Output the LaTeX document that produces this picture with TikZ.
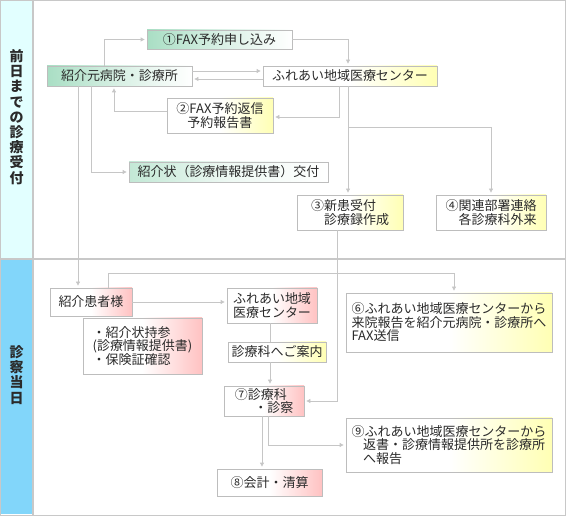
\documentclass[tikz,border=0pt]{standalone}
\usepackage{fontspec}
\newfontfamily\jpfont{Noto Sans CJK JP}
\usetikzlibrary{arrows.meta}
\definecolor{frameg}{HTML}{C8C8C8}
\definecolor{boxg}{HTML}{BDBDBD}
\definecolor{lineg}{HTML}{C6C6C6}
\definecolor{txt}{HTML}{2A2A2A}
\definecolor{mint}{HTML}{A9DEC4}
\definecolor{lemon}{HTML}{FFFFB4}
\definecolor{rose}{HTML}{FFC2C2}
\definecolor{pale}{HTML}{E2FFFF}
\definecolor{sky}{HTML}{82D6FA}

\begin{document}
\begin{tikzpicture}[x=1pt, y=-1pt,
    box/.style={draw=boxg, line width=0.8pt, text=txt, font=\jpfont\fontsize{13}{13.5}\selectfont, inner sep=2pt, align=center},
    gbox/.style={box, left color=mint, right color=white, middle color=mint!45},
    lgbox/.style={box, left color=mint!70, right color=white, middle color=mint!20},
    ybox/.style={box, left color=white, right color=lemon, middle color=white},
    pbox/.style={box, left color=white, right color=rose, middle color=white},
    link/.style={draw=lineg, line width=0.8pt},
    arr/.style={link, -{Triangle[length=4pt,width=4pt]}, shorten >=2pt},
    side/.style={font=\jpfont\bfseries\fontsize{14}{15.2}\selectfont, text=txt, align=center, text width=14pt},
  ]
    \useasboundingbox (0,0) rectangle (566,516);

    % frame and side bands
    \fill[pale] (1,1) rectangle (33,258);
    \fill[sky]  (1,260) rectangle (32,514);
    \draw[frameg, line width=1.2pt] (0.6,0.6) rectangle (565.4,515.4);
    \draw[frameg, line width=1.2pt] (33,0) -- (33,516);
    \draw[frameg, line width=1.2pt] (0,259) -- (566,259);

    \node[side] (day0) at (16.5,117) {前\\日\\ま\\で\\の\\診\\療\\受\\付};
    \node[side] (day1) at (16.5,375) {診\\察\\当\\日};

    % before the day
    \node[gbox, minimum width=145pt, minimum height=19pt] (fax)  at (219.5,39.5) {①FAX予約申し込み};
    \node[gbox, minimum width=145pt, minimum height=20pt] (src)  at (119.5,76)   {紹介元病院・診療所};
    \node[ybox, minimum width=174pt, minimum height=20pt] (ctr)  at (350,76)     {ふれあい地域医療センター};
    \node[ybox, minimum width=106pt, minimum height=35pt] (rep)  at (220,115.5)  {②FAX予約返信\\予約報告書};
    \node[lgbox, minimum width=199pt, minimum height=20pt] (ltr) at (228.5,172)  {紹介状（診療情報提供書）交付};
    \node[ybox, minimum width=106pt, minimum height=35pt, align=left] (new)  at (350,212.5) {③新患受付\\\hspace*{1em}診療録作成};
    \node[ybox, minimum width=110pt, minimum height=35pt, align=left] (dept) at (491,212.5) {④関連部署連絡\\\hspace*{1em}各診療科外来};

    % on the day
    \node[pbox, minimum width=82pt, minimum height=28pt]  (pat)   at (91,302)    {紹介患者様};
    \node[pbox, minimum width=119pt, minimum height=56pt, align=left] (note) at (142.5,346) {・紹介状持参\\(診療情報提供書)\\・保険証確認};
    \node[pbox, minimum width=90pt, minimum height=35pt, align=left] (ctr2) at (272,305.5) {ふれあい地域\\医療センター};
    \node[ybox, minimum width=98pt, minimum height=20pt]  (guide) at (277,352)    {診療科へご案内};
    \node[pbox, minimum width=80pt, minimum height=30pt, align=left] (exam) at (264,401) {⑦診療科\\\hspace*{1.5em}・診察};
    \node[pbox, minimum width=105pt, minimum height=27pt] (pay)   at (269.5,482.5) {⑧会計・清算};
    \node[ybox, minimum width=206pt, minimum height=59pt, align=left] (fax6) at (449,322.5) {⑥ふれあい地域医療センターから\\来院報告を紹介元病院・診療所へ\\FAX送信};
    \node[ybox, minimum width=206pt, minimum height=54pt, align=left] (ret9) at (449,445) {⑨ふれあい地域医療センターから\\\hspace*{0.9em}返書・診療情報提供所を診療所\\\hspace*{0.9em}へ報告};

    % connectors
    \draw[arr] ([xshift=-15.5pt]src.north) |- (fax.west);
    \draw[arr] (fax.east) -| ([xshift=-2pt]ctr.north);
    \draw[arr] ([yshift=5pt]src.east) -- ([yshift=5pt]ctr.west);
    \draw[arr] ([yshift=-3pt]ctr.west) -- ([yshift=-3pt]src.east);
    \draw[arr] ([xshift=-11pt]ctr.south) |- ([yshift=-1.5pt]rep.east);
    \draw[arr] ([yshift=4.5pt]rep.west) -| ([xshift=-5.5pt]src.south);
    \draw[arr] ([xshift=-28.5pt]src.south) |- (ltr.west);
    \draw[arr] ([xshift=-41.5pt]src.south) -- ([xshift=-41.5pt]src.south |- pat.north);
    \draw[arr] ([xshift=-2pt]ctr.south) -- ([xshift=-2pt]new.north);
    \draw[arr] ([xshift=-2pt,yshift=-41pt]ctr.south) -| (dept.north);
    \draw[arr] ([xshift=-13pt]new.south) |- (exam.east);
    \draw[arr] ([xshift=17pt]pat.north) -- ([xshift=17pt,yshift=14pt]pat.north) -| ([xshift=5pt]fax6.north);
    \draw[arr] (pat.east) -- (pat.east -| ctr2.west);
    \draw[link] ([xshift=-2pt]ctr2.south) -- ([xshift=-2pt]ctr2.south |- guide.north);
    \draw[arr] ([xshift=-2pt]ctr2.south |- guide.south) -- ([xshift=-2pt]ctr2.south |- exam.north);
    \draw[arr] ([xshift=-2pt]exam.south) -- ([xshift=-2pt]exam.south |- pay.north);
    \draw[arr] ([xshift=4pt]exam.south) |- (ret9.west);
\end{tikzpicture}
\end{document}
